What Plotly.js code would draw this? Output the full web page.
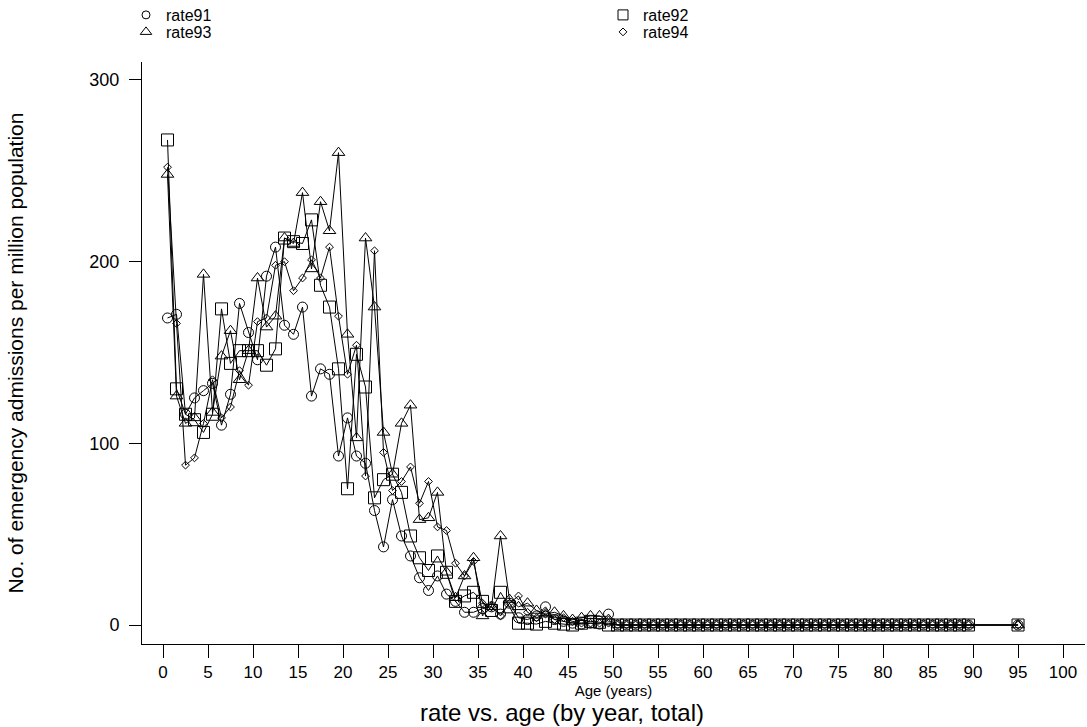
<!DOCTYPE html>
<html>
<head>
<meta charset="utf-8">
<script src="https://cdn.plot.ly/plotly-3.0.1.min.js"></script>
<style>
html,body{margin:0;padding:0;background:#fff;}
#chart{width:1087px;height:727px;}
</style>
</head>
<body>
<div id="chart"></div>
<script>
// Age (years) of each point
const ages = [0.5,1.5,2.5,3.5,4.5,5.5,6.5,7.5,8.5,9.5,
  10.5,11.5,12.5,13.5,14.5,15.5,16.5,17.5,18.5,19.5,
  20.5,21.5,22.5,23.5,24.5,25.5,26.5,27.5,28.5,29.5,
  30.5,31.5,32.5,33.5,34.5,35.5,36.5,37.5,38.5,39.5,
  40.5,41.5,42.5,43.5,44.5,45.5,46.5,47.5,48.5,49.5,
  50.5,51.5,52.5,53.5,54.5,55.5,56.5,57.5,58.5,59.5,
  60.5,61.5,62.5,63.5,64.5,65.5,66.5,67.5,68.5,69.5,
  70.5,71.5,72.5,73.5,74.5,75.5,76.5,77.5,78.5,79.5,
  80.5,81.5,82.5,83.5,84.5,85.5,86.5,87.5,88.5,89.5,
  95];

const rate91 = [169,171,116,125,129,133,110,127,177,161,
  146,192,208,165,160,175,126,141,138,93,
  114,93,89,63,43,69,49,38,26,19,
  27,17,13,7,7,9,10,6,12,4,
  3,5,10,3,2,1,0.5,1,0.5,6,
  0,0,0,0,0,0,0,0,0,0,
  0,0,0,0,0,0,0,0,0,0,
  0,0,0,0,0,0,0,0,0,0,
  0,0,0,0,0,0,0,0,0,0,
  0];

const rate92 = [267,130,116,113,106,116,174,144,151,151,
  151,143,152,213,211,210,223,187,175,141,
  75,149,131,70,80,83,73,49,37,30,
  38,29,13,16,18,13,8,18,10,1,
  1,0.5,2,1,0.5,0,1,2,1.5,0,
  0,0,0,0,0,0,0,0,0,0,
  0,0,0,0,0,0,0,0,0,0,
  0,0,0,0,0,0,0,0,0,0,
  0,0,0,0,0,0,0,0,0,0,
  0];

const rate93 = [248,126,111,114,193,117,148,162,135,151,
  191,164,170,213,210,238,196,233,217,260,
  160,103,213,175,106,83,111,121,58,59,
  73,29,15,27,37,5,10,49,14,10,
  12,8,6,7,5,3,4,5,5,2,
  0,0,0,0,0,0,0,0,0,0,
  0,0,0,0,0,0,0,0,0,0,
  0,0,0,0,0,0,0,0,0,0,
  0,0,0,0,0,0,0,0,0,0,
  0];

const rate94 = [252,166,88,92,111,135,114,120,140,132,
  167,169,198,200,184,191,201,191,208,170,
  138,154,82,206,95,74,79,87,67,79,
  54,52,34,27,35,12,10,5,12,16,
  7,4,6,3,4,2,1,1,1,1,
  0,0,0,0,0,0,0,0,0,0,
  0,0,0,0,0,0,0,0,0,0,
  0,0,0,0,0,0,0,0,0,0,
  0,0,0,0,0,0,0,0,0,0,
  0];

const seriesNames = ['rate91','rate92','rate93','rate94'];
const seriesData = [rate91, rate92, rate93, rate94];
const symbols = ['circle-open','square-open','triangle-up-open','diamond-open'];
const sizes = [10, 12, 11, 6];
const legendSizes = [8, 10, 10, 6];
const legendIds = ['legend','legend2','legend3','legend4'];

const FONT = 'Liberation Sans, Arial, Helvetica, sans-serif';

const W = 1087, H = 727;
const M = {l: 142, r: 2, t: 62, b: 83};
const PW = W - M.l - M.r, PH = H - M.t - M.b;

const traces = [];
seriesData.forEach((vals, i) => {
  traces.push({
    type: 'scatter', mode: 'lines+markers',
    x: ages, y: vals, name: seriesNames[i],
    showlegend: false,
    line: {color: '#000', width: 1},
    marker: {symbol: symbols[i], size: sizes[i], color: '#000', line: {width: 1, color: '#000'}},
    cliponaxis: false
  });
});
// legend entries (marker only), one legend box per entry
seriesData.forEach((vals, i) => {
  traces.push({
    type: 'scatter', mode: 'markers',
    x: [null], y: [null], name: seriesNames[i],
    showlegend: true, legend: legendIds[i],
    marker: {symbol: symbols[i], size: legendSizes[i], color: '#000', line: {width: 1, color: '#000'}}
  });
});

function legendBox(xpx, ypx) {
  return {
    xref: 'paper', yref: 'paper', orientation: 'h',
    x: (xpx - M.l) / PW, y: (H - M.b - ypx) / PH, xanchor: 'left', yanchor: 'middle',
    itemwidth: 30,
    font: {family: FONT, size: 16, color: '#000'},
    bgcolor: 'rgba(0,0,0,0)', borderwidth: 0
  };
}

const layout = {
  width: W, height: H,
  paper_bgcolor: '#fff', plot_bgcolor: '#fff',
  margin: {l: M.l, r: M.r, t: M.t, b: M.b, autoexpand: false},
  font: {family: FONT, color: '#000'},
  showlegend: true,
  legend: legendBox(126, 15),
  legend2: legendBox(603, 15),
  legend3: legendBox(126, 32),
  legend4: legendBox(603, 32),
  title: {
    text: 'rate vs. age (by year, total)',
    font: {family: FONT, size: 24, color: '#000'},
    xref: 'container', yref: 'container',
    x: 0.517, xanchor: 'center', y: 1 - 713 / 727, yanchor: 'middle'
  },
  xaxis: {
    range: [-2.333, 102.44], autorange: false,
    tickmode: 'array',
    tickvals: [0,5,10,15,20,25,30,35,40,45,50,55,60,65,70,75,80,85,90,95,100],
    ticktext: ['0','5','10','15','20','25','30','35','40','45','50','55','60','65','70','75','80','85','90','95','100'],
    tickangle: 0,
    ticks: 'outside', ticklen: 13, tickwidth: 1, tickcolor: '#000',
    showline: true, linecolor: '#000', linewidth: 1,
    showgrid: false, zeroline: false,
    tickfont: {family: FONT, size: 17, color: '#000'},
    title: {text: 'Age (years)', font: {family: FONT, size: 15, color: '#000'}, standoff: 0},
    automargin: false
  },
  yaxis: {
    range: [-10.46, 309.9], autorange: false,
    tickmode: 'array',
    tickvals: [0,100,200,300],
    ticktext: ['0','100','200','300'],
    ticks: 'outside', ticklen: 12, tickwidth: 1, tickcolor: '#000',
    showline: true, linecolor: '#000', linewidth: 1,
    showgrid: false, zeroline: false,
    tickfont: {family: FONT, size: 18, color: '#000'},
    ticklabelstandoff: 6,
    title: {text: 'No. of emergency admissions per million population', font: {family: FONT, size: 21, color: '#000'}, standoff: 60},
    automargin: false
  }
};

Plotly.newPlot('chart', traces, layout, {displayModeBar: false, staticPlot: true});
</script>
</body>
</html>
